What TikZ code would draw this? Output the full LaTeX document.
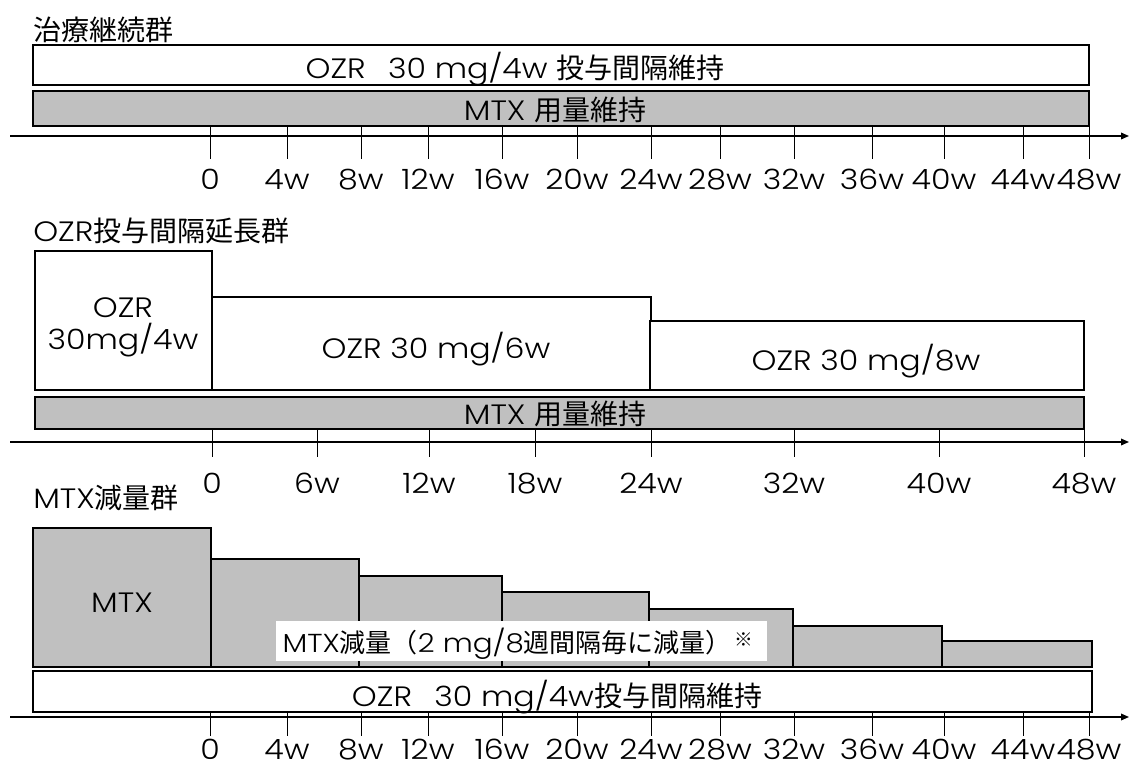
\documentclass[tikz,border=0pt]{standalone}
\usepackage{fontspec}
\setmainfont{Poppins}[UprightFont=* Light, FakeStretch=1.13]
\newfontfamily\jp{Noto Sans CJK JP}
\usetikzlibrary{arrows.meta}
\definecolor{barg}{RGB}{192,192,192}
\begin{document}
\begin{tikzpicture}[x=0.75pt,y=-0.75pt,
  wbar/.style={draw=black,line width=1.5pt,fill=white},
  gbar/.style={draw=black,line width=1.5pt,fill=barg},
  txt/.style={inner sep=0pt,anchor=base,font=\fontsize{21}{24}\selectfont},
  axisline/.style={line width=1pt,-{Triangle[length=6pt,width=5pt]}},
  tickline/.style={line width=0.75pt},
]
\useasboundingbox (0,0) rectangle (1129,767);

% ---------- Section 1 ----------
\draw[wbar] (33,45) rectangle (1089,85);
\draw[gbar] (33,91) rectangle (1089,126);
\node[txt,anchor=base west] (t1) at (33,41) {\jp 治療継続群};
\node[txt] (s1o) at (515,79) {OZR\hspace{0.8em}30 mg/4w {\jp 投与間隔維持}};
\node[txt] (s1m) at (555,121) {MTX {\jp 用量維持}};
\coordinate (a1s) at (10,136);
\coordinate (a1e) at (1129,136);
\draw[axisline] (a1s) -- (a1e);
\foreach \x/\l in {210/0,287/4w,361/8w,428/12w,502/16w,577/20w,651/24w,720/28w,794/32w,872/36w,944/40w,1023/44w,1089/48w}{
  \draw[tickline] (\x,126) -- (\x,159);
  \node[txt] (l1-\x) at (\x,190) {\l};
}

% ---------- Section 2 ----------
\node[txt,anchor=base west] (t2) at (33,241) {OZR{\jp 投与間隔延長群}};
\draw[wbar] (35,251) rectangle (212,390);
\draw[wbar] (212,297) rectangle (651,390);
\draw[wbar] (650,321) rectangle (1084,390);
\draw[gbar] (35,397) rectangle (1084,429);
\node[txt] (b21a) at (123,317) {OZR};
\node[txt] (b21b) at (123,349) {30mg/4w};
\node[txt] (b22) at (436,358) {OZR 30 mg/6w};
\node[txt] (b23) at (866,370) {OZR 30 mg/8w};
\node[txt] (s2m) at (555,424) {MTX {\jp 用量維持}};
\coordinate (a2s) at (10,442);
\coordinate (a2e) at (1129,442);
\draw[axisline] (a2s) -- (a2e);
\foreach \x/\l in {212/0,317/6w,429/12w,535/18w,651/24w,794/32w,939/40w,1084/48w}{
  \draw[tickline] (\x,429) -- (\x,457);
  \node[txt] (l2-\x) at (\x,493) {\l};
}

% ---------- Section 3 ----------
\node[txt,anchor=base west] (t3) at (33,508) {MTX{\jp 減量群}};
\draw[gbar] (33,528) rectangle (211,667);
\draw[gbar] (211,559) rectangle (359,667);
\draw[gbar] (359,576) rectangle (502,667);
\draw[gbar] (502,592) rectangle (649,667);
\draw[gbar] (649,609) rectangle (793,667);
\draw[gbar] (793,626) rectangle (942,667);
\draw[gbar] (942,641) rectangle (1092,667);
\node[txt] (b31) at (122,612) {MTX};
\fill[white] (276,621) rectangle (767,661);
\node[txt,font=\fontsize{19.5}{22}\selectfont] (lab) at (518,652) {MTX{\jp 減量（}2 mg/8{\jp 週間隔毎に減量）}\hspace{2pt}\raisebox{4pt}{\fontsize{14}{14}\selectfont\jp ※}};
\draw[wbar] (33,671) rectangle (1092,712);
\node[txt] (s3o) at (557,706) {OZR\hspace{0.8em}30 mg/4w{\jp 投与間隔維持}};
\coordinate (a3s) at (10,717);
\coordinate (a3e) at (1129,717);
\draw[axisline] (a3s) -- (a3e);
\foreach \x/\l in {210/0,287/4w,361/8w,428/12w,502/16w,577/20w,651/24w,720/28w,794/32w,872/36w,944/40w,1023/44w,1089/48w}{
  \draw[tickline] (\x,712) -- (\x,736);
  \node[txt] (l3-\x) at (\x,759) {\l};
}
\end{tikzpicture}
\end{document}
